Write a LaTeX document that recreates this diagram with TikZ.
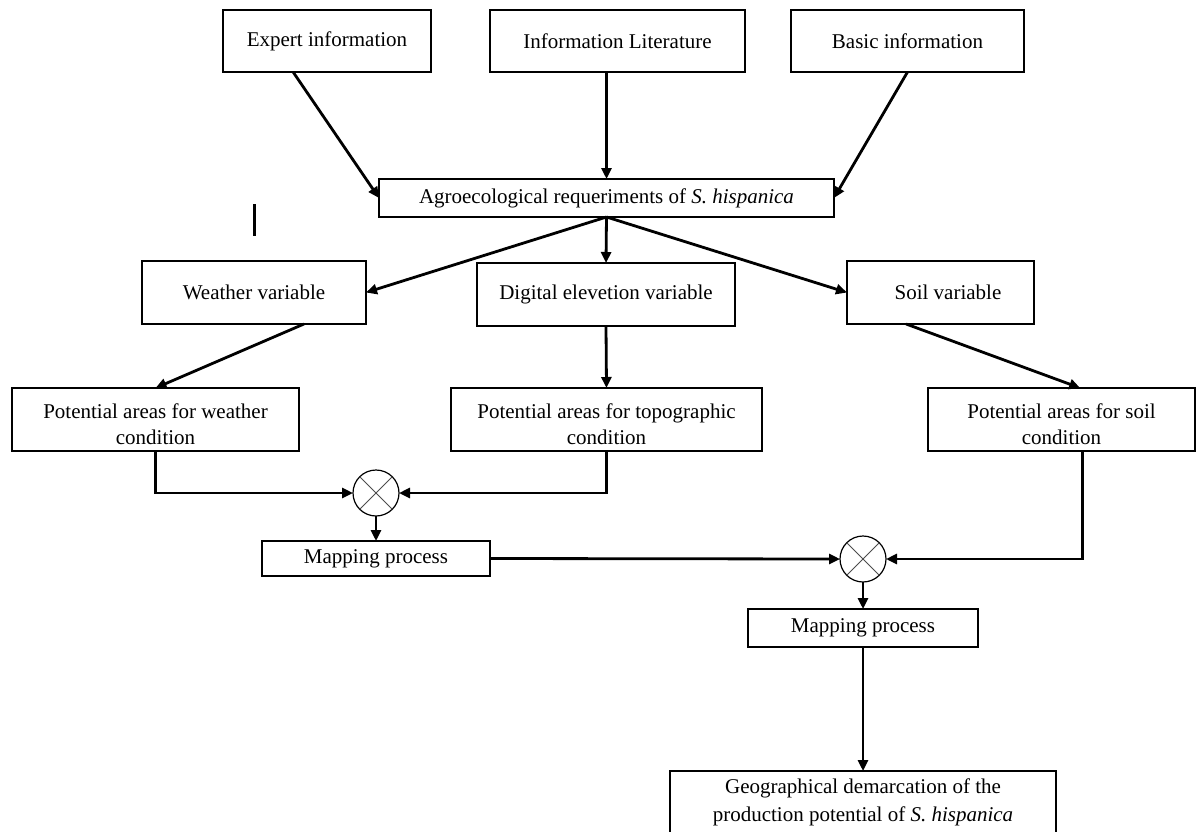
\documentclass[tikz,border=0pt]{standalone}
\usepackage{fontspec}
\setmainfont{Liberation Serif}
\usetikzlibrary{arrows.meta,calc}
\newcommand{\lowstrut}{\rule{0pt}{25pt}}
\begin{document}
\begin{tikzpicture}[x=1pt,y=-1pt,
 box/.style={draw,line width=1.4pt,inner sep=0pt,outer sep=0pt,align=center,font=\fontsize{21}{26}\selectfont},
 arr/.style={line width=2.8pt,-{Triangle[length=11pt,width=10pt]}},
 mix/.style={draw,circle,line width=1.2pt,minimum size=46pt,inner sep=0pt,outer sep=0pt},
 xline/.style={draw=gray!60!black,line width=0.8pt}]
\clip (0,0) rectangle (1203,831);
\fill[white] (0,0) rectangle (1203,831);

\node[box,minimum width=208pt,minimum height=62pt] (expert) at (327,41) {Expert information};
\node[box,minimum width=255pt,minimum height=62pt] (info) at (617.5,41) {Information Literature};
\node[box,minimum width=233pt,minimum height=62pt] (basic) at (907.5,41) {Basic information};
\node[box,minimum width=455pt,minimum height=38pt] (agro) at (606.5,198) {Agroecological requeriments of \textit{S. hispanica}};
\node[box,minimum width=224pt,minimum height=63pt] (weather) at (254,292.5) {Weather variable};
\node[box,minimum width=258pt,minimum height=63pt] (digital) at (606,294.5) {Digital elevetion variable};
\node[box,minimum width=187pt,minimum height=63pt] (soil) at (940.5,292.5) {\hspace*{15pt}Soil variable};
\node[box,minimum width=287pt,minimum height=63pt] (potw) at (155.5,419.5) {\lowstrut Potential areas for weather\\condition};
\node[box,minimum width=311pt,minimum height=63pt] (topo) at (606.5,419.5) {\lowstrut Potential areas for topographic\\condition};
\node[box,minimum width=267pt,minimum height=63pt] (potsoil) at (1061.5,419.5) {\lowstrut Potential areas for soil\\condition};
\node[mix] (c1) at (376,493) {};
\node[box,minimum width=228pt,minimum height=35pt] (map1) at (376,558.5) {Mapping process};
\node[mix] (c2) at (863,559) {};
\node[box,minimum width=230pt,minimum height=38pt] (map2) at (863,628) {Mapping process};
\node[box,minimum width=386pt,minimum height=62pt,font=\fontsize{21}{28}\selectfont] (geo) at (863,802) {Geographical demarcation of the\\production potential of \textit{S. hispanica}};

\draw[xline] (c1.north west) -- (c1.south east) (c1.north east) -- (c1.south west);
\draw[xline] (c2.north west) -- (c2.south east) (c2.north east) -- (c2.south west);

\draw[arr] ($(expert.south west)!0.337!(expert.south east)$) -- (agro.west);
\draw[arr] (info.south -| agro.north) -- (agro.north);
\draw[arr] (basic.south) -- (agro.east);
\draw[arr] (agro.south) -- (weather.east);
\draw[arr] (agro.south) -- (digital.north);
\draw[arr] (agro.south) -- (soil.west);
\draw[arr] ($(weather.south west)!0.723!(weather.south east)$) -- (potw.north);
\draw[arr] (digital.south) -- (topo.north);
\draw[arr] ($(soil.south west)!0.316!(soil.south east)$) -- ($(potsoil.north west)!0.57!(potsoil.north east)$);
\draw[arr] (potw.south) |- (c1.west);
\draw[arr] (topo.south) |- (c1.east);
\draw[arr] (c1.south) -- (map1.north);
\draw[arr] (map1.east) -- (c2.west);
\draw[arr] ($(potsoil.south west)!0.58!(potsoil.south east)$) |- (c2.east);
\draw[arr] (c2.south) -- (map2.north);
\draw[arr] (map2.south) -- (geo.north);

\draw[line width=3pt] (254,204) -- (254,236);
\end{tikzpicture}
\end{document}
